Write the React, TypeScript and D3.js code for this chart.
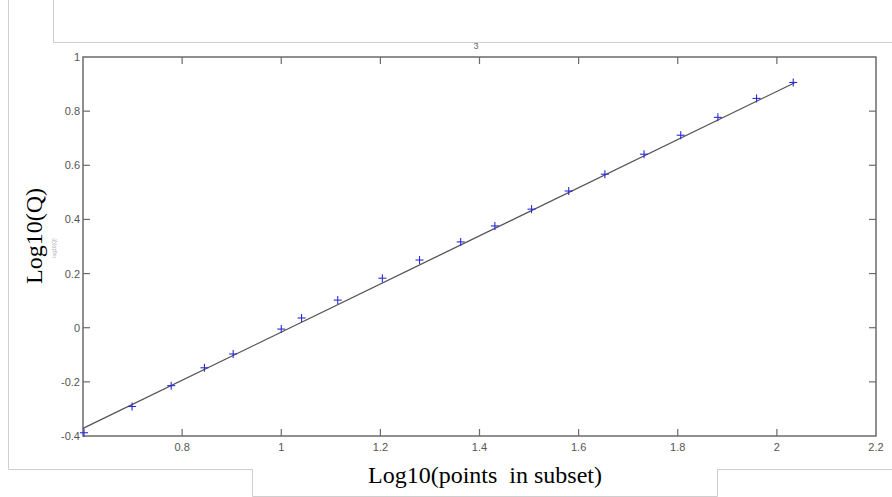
import React from 'react';
import * as d3 from 'd3';

// log10 of subset size (x) and log10(Q) (y)
const logPoints = [0.602, 0.699, 0.778, 0.845, 0.903, 1.0, 1.041, 1.114, 1.204, 1.279, 1.362, 1.431, 1.505, 1.58, 1.653, 1.732, 1.806, 1.881, 1.959, 2.033];
const logQ = [-0.388, -0.291, -0.214, -0.148, -0.097, -0.005, 0.036, 0.102, 0.183, 0.25, 0.317, 0.376, 0.438, 0.505, 0.567, 0.641, 0.711, 0.777, 0.847, 0.906];

// fitted straight line ends
const fitX = [0.6, 2.036];
const fitY = [-0.372, 0.905];

const xTicks = [0.8, 1, 1.2, 1.4, 1.6, 1.8, 2, 2.2];
const yTicks = [-0.4, -0.2, 0, 0.2, 0.4, 0.6, 0.8, 1];

const W = 892;
const H = 497;
const plot = { left: 83, right: 876, top: 57, bottom: 436 };

const App = () => {
    const x = d3.scaleLinear().domain([0.6, 2.2]).range([plot.left, plot.right]);
    const y = d3.scaleLinear().domain([-0.4, 1]).range([plot.bottom, plot.top]);

    const fitLine = d3.line<number>()
        .x((d, i) => x(fitX[i]))
        .y(d => y(d));

    const axisColor = '#6b6b6b';
    const tickText = '#555';
    const tickLen = 7;
    const fmt = (t: number) => String(+t.toFixed(1)); // plain hyphen minus like matlab

    return (
        <svg width={W} height={H} style={{ position: 'absolute', left: 0, top: 0, background: '#fff' }}>
            {/* leftover window frame lines */}
            <g stroke="#cfcfcf" strokeWidth={1} fill="none">
                <line x1={8.5} y1={0} x2={8.5} y2={469} />
                <line x1={8.5} y1={469.5} x2={252} y2={469.5} />
                <polyline points="53.5,0 53.5,42.5 892,42.5" />
                <polyline points="252.5,469 252.5,496.5 717.5,496.5 717.5,469.5 892,469.5" />
            </g>

            <text x={476} y={49} fontFamily="Arial, sans-serif" fontSize={9} fill="#666" textAnchor="middle">3</text>

            {/* box */}
            <rect x={plot.left} y={plot.top} width={plot.right - plot.left} height={plot.bottom - plot.top}
                fill="none" stroke={axisColor} strokeWidth={1.5} />

            {/* x ticks, inward on bottom and top */}
            {xTicks.map(t => (
                <g key={'x' + t}>
                    {t < 2.2 && (
                        <>
                            <line x1={x(t)} x2={x(t)} y1={plot.bottom} y2={plot.bottom - tickLen} stroke={axisColor} strokeWidth={1.2} />
                            <line x1={x(t)} x2={x(t)} y1={plot.top} y2={plot.top + tickLen} stroke={axisColor} strokeWidth={1.2} />
                        </>
                    )}
                    <text x={x(t)} y={plot.bottom + 15} fontFamily="Arial, sans-serif" fontSize={11} fill={tickText} textAnchor="middle">
                        {fmt(t)}
                    </text>
                </g>
            ))}

            {/* y ticks, inward on left and right */}
            {yTicks.map(t => (
                <g key={'y' + t}>
                    {t > -0.4 && t < 1 && (
                        <>
                            <line x1={plot.left} x2={plot.left + tickLen} y1={y(t)} y2={y(t)} stroke={axisColor} strokeWidth={1.2} />
                            <line x1={plot.right} x2={plot.right - tickLen} y1={y(t)} y2={y(t)} stroke={axisColor} strokeWidth={1.2} />
                        </>
                    )}
                    <text x={plot.left - 3} y={y(t) + 4} fontFamily="Arial, sans-serif" fontSize={11} fill={tickText} textAnchor="end">
                        {fmt(t)}
                    </text>
                </g>
            ))}

            {/* fitted line */}
            <path d={fitLine(fitY) || ''} fill="none" stroke="#555" strokeWidth={1.3} />

            {/* data markers */}
            {logPoints.map((p, i) => (
                <g key={'p' + i} stroke="#2b2bdc" strokeWidth={1.1}>
                    <line x1={x(p) - 4} x2={x(p) + 4} y1={y(logQ[i])} y2={y(logQ[i])} />
                    <line x1={x(p)} x2={x(p)} y1={y(logQ[i]) - 4} y2={y(logQ[i]) + 4} />
                </g>
            ))}

            {/* labels */}
            <text transform="translate(42,236) rotate(-90)" fontFamily="'Liberation Serif', 'Times New Roman', serif" fontSize={24} fill="#000" textAnchor="middle">
                Log10(Q)
            </text>
            <text transform="translate(56,248) rotate(-90)" fontFamily="Arial, sans-serif" fontSize={5} fill="#aaa" textAnchor="middle">
                log10(Q)
            </text>
            <text x={485} y={483} fontFamily="'Liberation Serif', 'Times New Roman', serif" fontSize={24} fill="#000" textAnchor="middle" style={{ whiteSpace: 'pre' }}>
                {'Log10(points  in subset)'}
            </text>
        </svg>
    );
};

export default App;
